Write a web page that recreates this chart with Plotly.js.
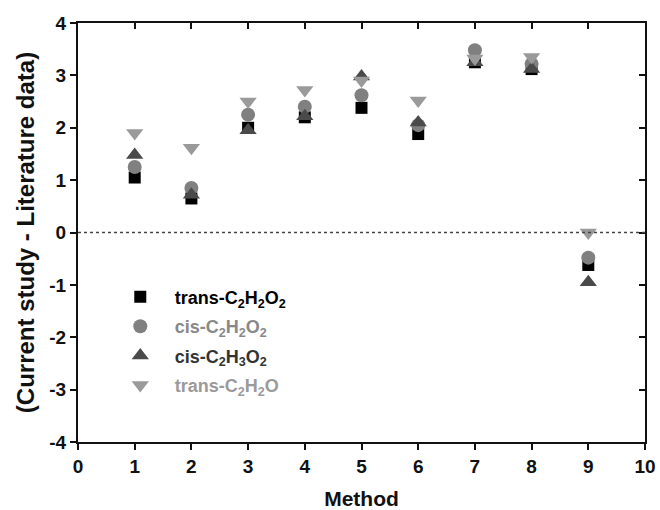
<!DOCTYPE html>
<html>
<head>
<meta charset="utf-8">
<script src="https://cdn.plot.ly/plotly-3.0.1.min.js"></script>
<style>html,body{margin:0;padding:0;background:#fff;}#chart{width:660px;height:510px;}</style>
</head>
<body>
<div id="chart"></div>
<script>
const methods = [1, 2, 3, 4, 5, 6, 7, 8, 9];
const transC2H2O2 = [1.05, 0.65, 2.00, 2.20, 2.38, 1.88, 3.25, 3.12, -0.62];
const cisC2H2O2   = [1.25, 0.85, 2.25, 2.40, 2.62, 2.05, 3.48, 3.22, -0.48];
const cisC2H3O2   = [1.48, 0.72, 1.95, 2.22, 2.98, 2.10, 3.25, 3.12, -0.95];
const transC2H2O  = [1.90, 1.62, 2.50, 2.72, 2.90, 2.52, 3.32, 3.35, 0.00];
const seriesNames = [
  'trans-C<sub>2</sub>H<sub>2</sub>O<sub>2</sub>',
  'cis-C<sub>2</sub>H<sub>2</sub>O<sub>2</sub>',
  'cis-C<sub>2</sub>H<sub>3</sub>O<sub>2</sub>',
  'trans-C<sub>2</sub>H<sub>2</sub>O'
];
const xTicks = [0,1,2,3,4,5,6,7,8,9,10];
const yTicks = [-4,-3,-2,-1,0,1,2,3,4];

const styles = [
  {symbol:'square', color:'#000000', size:12, text:'#000000'},
  {symbol:'circle', color:'#808080', size:14, text:'#888888'},
  {symbol:'triangle-up', color:'#4a4a4a', size:15, text:'#333333'},
  {symbol:'triangle-down', color:'#9a9a9a', size:15, text:'#9a9a9a'}
];
const ys = [transC2H2O2, cisC2H2O2, cisC2H3O2, transC2H2O];

const traces = ys.map((y, i) => ({
  type: 'scatter', mode: 'markers', x: methods, y: y,
  name: '<span style="color:' + styles[i].text + '">' + seriesNames[i] + '</span>',
  legendgroup: 'g' + i,
  marker: {symbol: styles[i].symbol, color: styles[i].color, size: styles[i].size, line: {width: 0}},
  cliponaxis: false
}));
traces.push({type:'scatter', mode:'markers', x:[0], y:[0], xaxis:'x2', yaxis:'y2', marker:{opacity:0}, showlegend:false, hoverinfo:'skip'});

const fam = 'Liberation Sans, Arial, sans-serif';
const layout = {
  width: 660, height: 510,
  margin: {l: 78, r: 15, t: 23, b: 68},
  paper_bgcolor: '#fff', plot_bgcolor: '#fff',
  font: {family: fam, size: 16, color: '#111'},
  showlegend: true,
  legend: {x: 0.049, y: 0.39, xanchor: 'left', yanchor: 'top', bgcolor: 'rgba(0,0,0,0)',
           traceorder: 'grouped', tracegroupgap: 3,
           font: {family: fam, size: 18, color: '#111', weight: 'bold'}, itemwidth: 59},
  xaxis: {
    range: [0, 10], tickvals: xTicks, ticktext: xTicks.map(String),
    ticks: 'outside', ticklen: 6, tickwidth: 2, tickcolor: '#111',
    showline: true, linewidth: 2, linecolor: '#111', showgrid: false, zeroline: false,
    tickfont: {family: fam, size: 19, color: '#111', weight: 'bold'},
    title: {text: '<b>Method</b>', font: {family: fam, size: 21, color: '#111'}, standoff: 17}
  },
  yaxis: {
    range: [-4, 4], tickvals: yTicks, ticktext: yTicks.map(String),
    ticks: 'outside', ticklen: 6, tickwidth: 2, tickcolor: '#111',
    showline: true, linewidth: 2, linecolor: '#111', showgrid: false, zeroline: false,
    tickfont: {family: fam, size: 19, color: '#111', weight: 'bold'},
    title: {text: '<b>(Current study - Literature data)</b>', font: {family: fam, size: 24, color: '#111'}, standoff: 8}
  },
  xaxis2: {
    range: [0, 10], tickvals: xTicks, overlaying: 'x', side: 'top', ticks: 'inside', ticklen: 6, tickwidth: 2, tickcolor: '#111',
    showline: true, linewidth: 2, linecolor: '#111', showgrid: false, zeroline: false, showticklabels: false
  },
  yaxis2: {
    range: [-4, 4], tickvals: yTicks, overlaying: 'y', side: 'right', ticks: 'inside', ticklen: 6, tickwidth: 2, tickcolor: '#111',
    showline: true, linewidth: 2, linecolor: '#111', showgrid: false, zeroline: false, showticklabels: false
  },
  shapes: [{type: 'line', xref: 'x', yref: 'y', x0: 0, x1: 10, y0: 0, y1: 0,
            line: {color: '#444', width: 1.5, dash: 'dot'}}]
};
Plotly.newPlot('chart', traces, layout, {staticPlot: true, displayModeBar: false});
</script>
</body>
</html>
